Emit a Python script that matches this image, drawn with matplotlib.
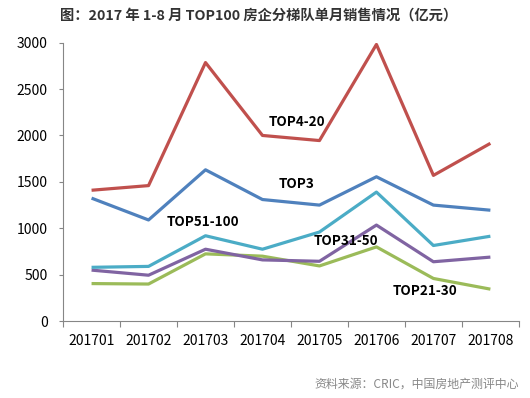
import matplotlib
matplotlib.use("Agg")
import matplotlib.pyplot as plt
from matplotlib.ticker import FixedLocator, NullFormatter

plt.rcParams["font.family"] = ["Noto Sans CJK SC", "DejaVu Sans"]

months = ["201701", "201702", "201703", "201704", "201705", "201706", "201707", "201708"]
top3 = [1325, 1090, 1630, 1310, 1250, 1555, 1250, 1195]
top4_20 = [1410, 1460, 2785, 2000, 1945, 2980, 1570, 1915]
top21_30 = [405, 400, 725, 700, 595, 800, 460, 345]
top31_50 = [550, 495, 775, 660, 645, 1035, 640, 690]
top51_100 = [580, 590, 920, 775, 960, 1390, 815, 915]

series = [
    ("TOP4-20", top4_20, "#C0504D", (3.6, 2140)),
    ("TOP3", top3, "#4F81BD", (3.6, 1473)),
    ("TOP51-100", top51_100, "#4BACC6", (1.95, 1065)),
    ("TOP31-50", top31_50, "#8064A2", (4.46, 860)),
    ("TOP21-30", top21_30, "#9BBB59", (5.86, 322)),
]

fig = plt.figure(figsize=(5.3, 3.98), dpi=100)
ax = fig.add_axes([0.119, 0.193, 0.860, 0.700])

x = range(len(months))
# lower series first so the upper ones sit on top
for name, vals, col, pos in reversed(series):
    ax.plot(x, vals, color=col, lw=2.3, solid_capstyle="butt")
for name, vals, col, pos in series:
    ax.text(pos[0], pos[1], name, ha="center", va="center",
            fontsize=9.7, fontweight="bold", color="black")

ax.set_xlim(-0.5, len(months) - 0.5)
ax.set_ylim(0, 3000)
ax.set_yticks(range(0, 3001, 500))
ax.xaxis.set_major_locator(FixedLocator([i - 0.5 for i in range(len(months) + 1)]))
ax.xaxis.set_major_formatter(NullFormatter())
ax.xaxis.set_minor_locator(FixedLocator(list(x)))
ax.set_xticklabels(months, minor=True)
ax.tick_params(axis="x", which="major", length=4, color="#868686", direction="out")
ax.tick_params(axis="x", which="minor", length=0, pad=9, labelsize=10)
ax.tick_params(axis="y", length=3, color="#868686", labelsize=10, pad=8)

for s in ["top", "right"]:
    ax.spines[s].set_visible(False)
for s in ["left", "bottom"]:
    ax.spines[s].set_color("#868686")

fig.text(0.487, 0.962, "图：2017 年 1-8 月 TOP100 房企分梯队单月销售情况（亿元）",
         ha="center", va="center", fontsize=10.3, fontweight="bold", color="#333333")
fig.text(0.979, 0.036, "资料来源：CRIC，中国房地产测评中心",
         ha="right", va="center", fontsize=8.6, color="#888888")

fig.savefig("out.png", dpi=100)
